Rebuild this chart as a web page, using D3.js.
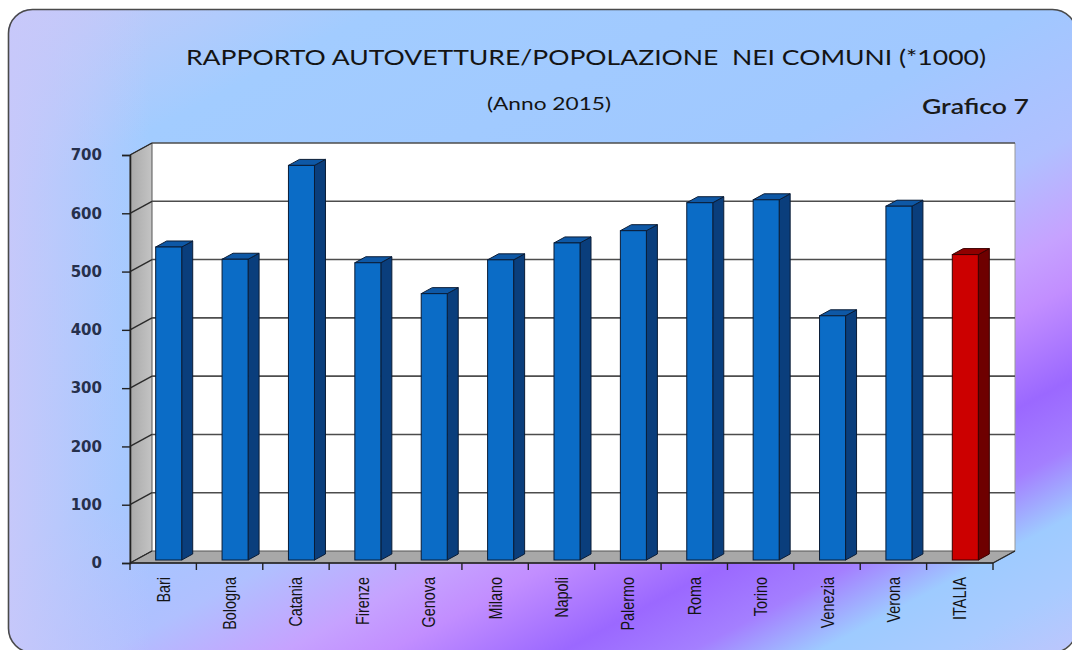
<!DOCTYPE html>
<html>
<head>
<meta charset="utf-8">
<script src="https://cdn.jsdelivr.net/npm/d3@7"></script>
<style>
  body { margin: 0; background: #ffffff; }
  svg { display: block; }
</style>
</head>
<body>
<script>
// ---- data ----
const categories = ["Bari","Bologna","Catania","Firenze","Genova","Milano","Napoli","Palermo","Roma","Torino","Venezia","Verona","ITALIA"];
const values = [537, 516, 677, 510, 457, 515, 544, 565, 613, 618, 419, 607, 524];
const highlighted = ["ITALIA"];
const yTicks = [0, 100, 200, 300, 400, 500, 600, 700];
const titleText = "RAPPORTO AUTOVETTURE/POPOLAZIONE  NEI COMUNI (*1000)";
const subtitleText = "(Anno 2015)";
const chartLabel = "Grafico 7";

// ---- layout ----
const W = 1072, H = 650;
const plot = { left: 130, right: 993, top: 155, bottom: 563 };
const depth = { dx: 22, dy: -12 };

const svg = d3.select("body").append("svg").attr("width", W).attr("height", H);
const defs = svg.append("defs");

// background gradient
const bg = defs.append("linearGradient").attr("id", "bg")
  .attr("gradientUnits", "userSpaceOnUse")
  .attr("x1", 0).attr("y1", 0).attr("x2", 517).attr("y2", 968);
[[0, "#c9c9f7"], [0.17, "#a2ccff"], [0.45, "#a0c8ff"], [0.57, "#b0c0ff"],
 [0.645, "#c6a2ff"], [0.69, "#c28eff"], [0.765, "#9b68ff"], [0.82, "#a47fff"],
 [0.875, "#9ecbff"], [0.93, "#a9cbff"], [1, "#c2c4fc"]].forEach(([o, c]) =>
  bg.append("stop").attr("offset", o).attr("stop-color", c));

const leftFade = defs.append("linearGradient").attr("id", "leftFade")
  .attr("gradientUnits", "userSpaceOnUse")
  .attr("x1", 8).attr("y1", 0).attr("x2", 150).attr("y2", 0);
leftFade.append("stop").attr("offset", 0).attr("stop-color", "#c8c8fa").attr("stop-opacity", 0.95);
leftFade.append("stop").attr("offset", 1).attr("stop-color", "#c8c8fa").attr("stop-opacity", 0);

const wallGrad = defs.append("linearGradient").attr("id", "wallGrad")
  .attr("x1", 0).attr("y1", 0).attr("x2", 1).attr("y2", 0);
wallGrad.append("stop").attr("offset", 0).attr("stop-color", "#a9a9a9");
wallGrad.append("stop").attr("offset", 1).attr("stop-color", "#c4c4c4");

defs.append("clipPath").attr("id", "frameClip")
  .append("rect").attr("x", 8).attr("y", 9).attr("width", 1068).attr("height", 643).attr("rx", 24);

svg.append("rect").attr("x", 8).attr("y", 9).attr("width", 1068).attr("height", 643).attr("rx", 24)
  .attr("fill", "url(#bg)");
svg.append("rect").attr("x", 8).attr("y", 9).attr("width", 160).attr("height", 643)
  .attr("clip-path", "url(#frameClip)").attr("fill", "url(#leftFade)");
svg.append("rect").attr("x", 8.5).attr("y", 9.5).attr("width", 1068).attr("height", 643).attr("rx", 24)
  .attr("fill", "none").attr("stroke", "#4a4a4a").attr("stroke-width", 1.6);

// ---- titles ----
svg.append("text").attr("x", 586).attr("y", 65).attr("text-anchor", "middle")
  .attr("textLength", 800).attr("lengthAdjust", "spacingAndGlyphs")
  .style("white-space", "pre")
  .attr("font-family", "Lato, 'Open Sans', sans-serif").attr("font-size", 22)
  .attr("fill", "#141414").text(titleText);
svg.append("text").attr("x", 549).attr("y", 110).attr("text-anchor", "middle")
  .attr("textLength", 124).attr("lengthAdjust", "spacingAndGlyphs")
  .attr("font-family", "Lato, 'Open Sans', sans-serif").attr("font-size", 18)
  .attr("fill", "#141414").text(subtitleText);
svg.append("text").attr("x", 1029).attr("y", 114).attr("text-anchor", "end")
  .attr("textLength", 107).attr("lengthAdjust", "spacingAndGlyphs")
  .attr("font-family", "Lato, 'Open Sans', sans-serif").attr("font-size", 21).attr("font-weight", 600)
  .attr("fill", "#1a1a1a").text(chartLabel);

// ---- scales ----
const x = d3.scaleBand().domain(categories).range([plot.left, plot.right]).padding(0);
const y = d3.scaleLinear().domain([0, 700]).range([plot.bottom, plot.top]);
const backX0 = plot.left + depth.dx, backX1 = plot.right + depth.dx;
const y0 = y(0);

// back wall
svg.append("rect").attr("x", backX0).attr("y", y(700) + depth.dy)
  .attr("width", backX1 - backX0).attr("height", y0 - y(700))
  .attr("fill", "#ffffff");
svg.append("line").attr("x1", backX1).attr("x2", backX1)
  .attr("y1", y(700) + depth.dy).attr("y2", y0 + depth.dy)
  .attr("stroke", "#9a9a9a").attr("stroke-width", 1);

// side wall
svg.append("polygon")
  .attr("points", [[plot.left, y(700)], [backX0, y(700) + depth.dy], [backX0, y0 + depth.dy], [plot.left, y0]].join(" "))
  .attr("fill", "url(#wallGrad)").attr("stroke", "#555").attr("stroke-width", 1);

// floor
svg.append("polygon")
  .attr("points", [[plot.left, y0], [backX0, y0 + depth.dy], [backX1, y0 + depth.dy], [plot.right, y0]].join(" "))
  .attr("fill", "#a8a8a8").attr("stroke", "#555").attr("stroke-width", 1);

// gridlines on back wall + diagonal ticks on side wall
const grid = svg.append("g");
yTicks.forEach(t => {
  if (t > 0) {
    grid.append("line").attr("x1", backX0).attr("x2", backX1)
      .attr("y1", y(t) + depth.dy).attr("y2", y(t) + depth.dy)
      .attr("stroke", "#4d4d4d").attr("stroke-width", 1.6);
  }
  grid.append("line").attr("x1", plot.left).attr("x2", backX0)
    .attr("y1", y(t)).attr("y2", y(t) + depth.dy)
    .attr("stroke", "#2a2a2a").attr("stroke-width", 1.4);
});
svg.append("line").attr("x1", plot.right).attr("x2", backX1)
  .attr("y1", y0).attr("y2", y0 + depth.dy).attr("stroke", "#2a2a2a").attr("stroke-width", 1.4);

// ---- bars ----
const bw = x.bandwidth() * 0.392;
const fx = depth.dx * 0.25, fy = depth.dy * 0.25;
const bdx = depth.dx * 0.5, bdy = depth.dy * 0.5;
const blue = { front: "#0b6cc6", side: "#0a3e7c", top: "#0e58a6", line: "#0a1c36" };
const red = { front: "#cc0000", side: "#6e0000", top: "#8f0000", line: "#3a0000" };

svg.append("g").selectAll("g").data(categories).join("g")
  .each(function (c, i) {
    const g = d3.select(this);
    const col = highlighted.includes(c) ? red : blue;
    const xl = x(c) + x.bandwidth() / 2 + fx - bw / 2;
    const xr = xl + bw;
    const yt = y(values[i]) + fy;
    const yb = y0 + fy;
    g.append("polygon")
      .attr("points", [[xr, yt], [xr + bdx, yt + bdy], [xr + bdx, yb + bdy], [xr, yb]].join(" "))
      .attr("fill", col.side).attr("stroke", col.line).attr("stroke-width", 1);
    g.append("polygon")
      .attr("points", [[xl, yt], [xl + bdx, yt + bdy], [xr + bdx, yt + bdy], [xr, yt]].join(" "))
      .attr("fill", col.top).attr("stroke", col.line).attr("stroke-width", 1);
    g.append("rect").attr("x", xl).attr("y", yt).attr("width", bw).attr("height", yb - yt)
      .attr("fill", col.front).attr("stroke", col.line).attr("stroke-width", 1);
  });

// ---- axes ----
const yAxis = svg.append("g").attr("transform", `translate(${plot.left},0)`)
  .call(d3.axisLeft(y).tickValues(yTicks).tickSize(8).tickPadding(20).tickFormat(d3.format("d")));
yAxis.select(".domain").attr("stroke", "#222").attr("stroke-width", 1.6);
yAxis.selectAll(".tick line").attr("stroke", "#222").attr("stroke-width", 1.4);
yAxis.selectAll(".tick text").attr("font-family", "'DejaVu Sans', Verdana, sans-serif")
  .attr("font-weight", "bold").attr("font-size", 15).attr("fill", "#26304c");

const xAxis = svg.append("g").attr("transform", `translate(0,${y0})`);
xAxis.append("line").attr("x1", plot.left).attr("x2", plot.right).attr("y1", 0).attr("y2", 0)
  .attr("stroke", "#222").attr("stroke-width", 1.6);
const bounds = categories.map(c => x(c)).concat([x(categories[categories.length - 1]) + x.bandwidth()]);
xAxis.selectAll("line.tk").data(bounds).join("line").attr("class", "tk")
  .attr("x1", d => d).attr("x2", d => d).attr("y1", 0).attr("y2", 7)
  .attr("stroke", "#222").attr("stroke-width", 1.4);
xAxis.selectAll("text.lab").data(categories).join("text").attr("class", "lab")
  .attr("transform", c => `translate(${x(c) + x.bandwidth() / 2},14) rotate(-90) scale(0.8,1)`)
  .attr("text-anchor", "end").attr("dy", "0.36em")
  .attr("font-family", "'Liberation Sans', Arial, sans-serif").attr("font-size", 18)
  .attr("fill", "#141414").text(c => c);
</script>
</body>
</html>
